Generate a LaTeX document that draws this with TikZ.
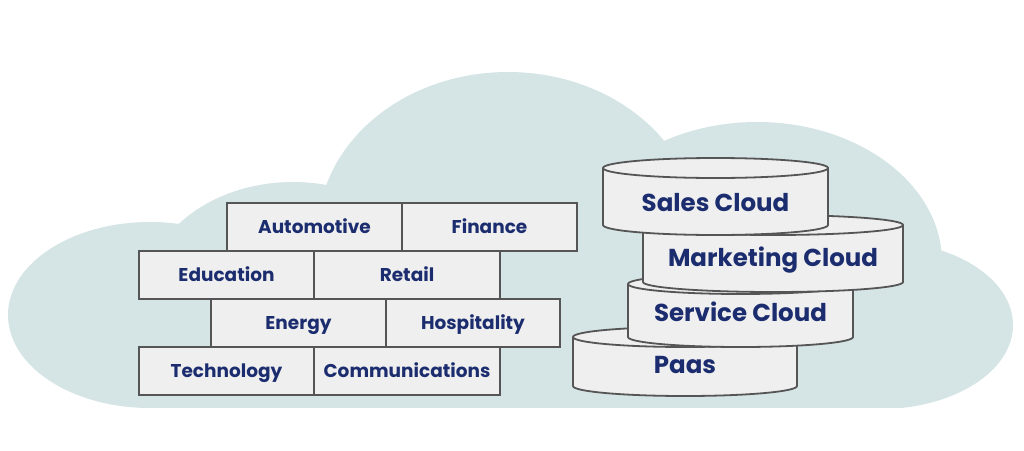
\documentclass[tikz,border=0pt]{standalone}
\usepackage{fontspec}
\setmainfont{Poppins}
\definecolor{cloudbg}{HTML}{D5E4E4}
\definecolor{brickfill}{HTML}{EFEFEF}
\definecolor{brickline}{HTML}{555555}
\definecolor{navy}{HTML}{1B2D6E}
\tikzset{
  brick/.style={draw=brickline,fill=brickfill,line width=1.8pt,minimum height=48pt,
    inner sep=0pt,text=navy,text height=13pt,text depth=0pt,
    font=\bfseries\fontsize{18.5}{18.5}\selectfont},
  cyl/.style={draw=brickline,fill=brickfill,line width=1.8pt,line join=round},
  cyllabel/.style={text=navy,text height=17pt,text depth=0pt,
    font=\bfseries\fontsize{24.5}{24.5}\selectfont}
}
\begin{document}
\begin{tikzpicture}[x=1pt,y=-1pt]
\useasboundingbox (0,0) rectangle (1024,450);
% cloud
\begin{scope}
\clip (0,0) rectangle (1024,407);
\foreach \ex/\ey/\rx/\ry in {150/315/142/93,293/301/150/119,508/232/190/160,757/262/185/140,880/325/133/84}{
    \fill[cloudbg] (\ex,\ey) ellipse[x radius=\rx,y radius=\ry];
}
\fill[cloudbg] (150,230) rectangle (880,420);
\end{scope}
% bricks
\foreach \cx/\cy/\w/\lab in {314.5/227/175/Automotive,489.5/227/175/Finance,
    226.5/275/175/Education,407/275/186/Retail,298.5/323/175/Energy,473/323/174/Hospitality,
    226.5/371/175/Technology,407/371/186/Communications}{
    \node[brick,minimum width=\w] (\lab) at (\cx,\cy) {\lab};
}
% cylinders
\foreach \cx/\w/\t/\b/\ty/\lab/\name in {685/112/337/386/365/Paas/paas,
    740.5/112.5/284/337/313/Service Cloud/service,773/130/225/282/258/Marketing Cloud/marketing,
    715.5/112.5/168/225/203/Sales Cloud/sales}{
    \filldraw[cyl] (\cx-\w,\t) -- (\cx-\w,\b) arc[start angle=180,end angle=0,x radius=\w,y radius=10]
        -- (\cx+\w,\t) arc[start angle=0,end angle=-180,x radius=\w,y radius=10] -- cycle;
    \draw[cyl,fill=none] (\cx-\w,\t) arc[start angle=180,end angle=0,x radius=\w,y radius=10];
    \node[cyllabel] (\name) at (\cx,\ty) {\lab};
}
\end{tikzpicture}
\end{document}
